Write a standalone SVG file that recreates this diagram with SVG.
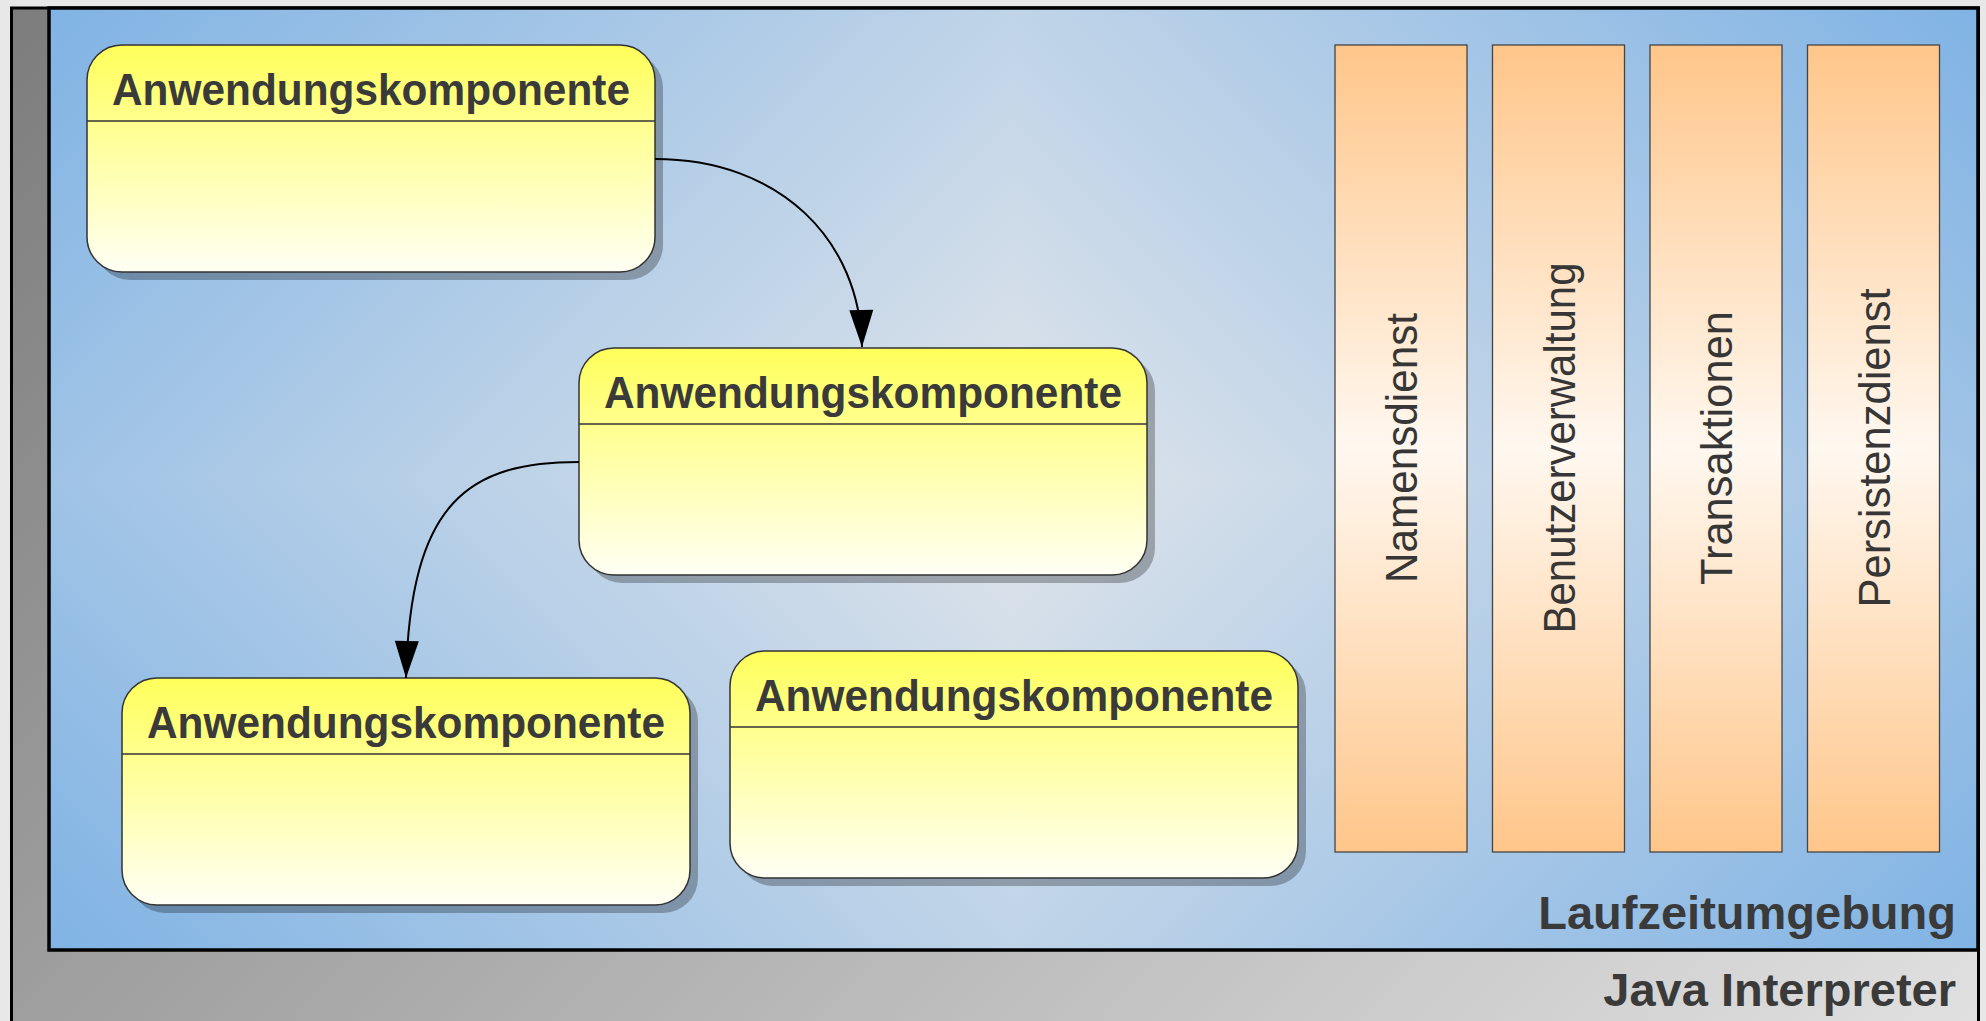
<svg xmlns="http://www.w3.org/2000/svg" width="1986" height="1021" viewBox="0 0 1986 1021">
  <defs>
    <!-- grey interpreter frame: diagonal ramp -->
    <linearGradient id="gradFrame" gradientUnits="userSpaceOnUse" x1="0" y1="0" x2="1500" y2="1500">
      <stop offset="0" stop-color="#7c7c7c"/>
      <stop offset="1" stop-color="#e0e0e0"/>
    </linearGradient>
    <!-- runtime area: diamond-shaped ramp, one linear ramp per quadrant around the centre (1013.5,479) -->
    <linearGradient id="gradTL" gradientUnits="userSpaceOnUse" x1="1013.5" y1="479" x2="295.75" y2="-238.75">
      <stop offset="0" stop-color="#dfe4ea"/>
      <stop offset="1" stop-color="#80b3e4"/>
    </linearGradient>
    <linearGradient id="gradTR" gradientUnits="userSpaceOnUse" x1="1013.5" y1="479" x2="1731.25" y2="-238.75">
      <stop offset="0" stop-color="#dfe4ea"/>
      <stop offset="1" stop-color="#80b3e4"/>
    </linearGradient>
    <linearGradient id="gradBL" gradientUnits="userSpaceOnUse" x1="1013.5" y1="479" x2="295.75" y2="1196.75">
      <stop offset="0" stop-color="#dfe4ea"/>
      <stop offset="1" stop-color="#80b3e4"/>
    </linearGradient>
    <linearGradient id="gradBR" gradientUnits="userSpaceOnUse" x1="1013.5" y1="479" x2="1731.25" y2="1196.75">
      <stop offset="0" stop-color="#dfe4ea"/>
      <stop offset="1" stop-color="#80b3e4"/>
    </linearGradient>
    <!-- component boxes -->
    <linearGradient id="gradBox" x1="0" y1="0" x2="0" y2="1">
      <stop offset="0" stop-color="#ffff5a"/>
      <stop offset="1" stop-color="#fffff5"/>
    </linearGradient>
    <!-- service columns: axial ramp -->
    <linearGradient id="gradService" x1="0" y1="0" x2="0" y2="1">
      <stop offset="0" stop-color="#ffc68a"/>
      <stop offset="0.5" stop-color="#fff8f0"/>
      <stop offset="1" stop-color="#ffc68a"/>
    </linearGradient>
    <marker id="arrow" markerUnits="userSpaceOnUse" markerWidth="38" markerHeight="24" refX="37" refY="12" orient="auto" overflow="visible">
      <path d="M0,0 L37,12 L0,24 Z" fill="#000"/>
    </marker>
  </defs>
  <style>
    .title { font-family: "Liberation Sans", Arial, sans-serif; font-weight: bold; font-size: 45px; fill: #3a3a3a; text-anchor: middle; }
    .label { font-family: "Liberation Sans", Arial, sans-serif; font-weight: bold; font-size: 47px; fill: #3a3a3a; text-anchor: end; }
    .service-text { font-family: "Liberation Sans", Arial, sans-serif; font-size: 43.5px; fill: #363636; text-anchor: middle; }
    .box { fill: url(#gradBox); stroke: #333; stroke-width: 1.5; }
    .shadow { fill: #000; opacity: 0.27; }
    .divider { stroke: #333; stroke-width: 1.5; }
    .service { fill: url(#gradService); stroke: #444; stroke-width: 1.3; }
    .conn { fill: none; stroke: #000; stroke-width: 2; marker-end: url(#arrow); }
  </style>

  <rect width="1986" height="1021" fill="#e8e8e8"/>

  <!-- Java Interpreter -->
  <g id="java-interpreter">
    <rect x="11.5" y="8" width="1967" height="1040" fill="url(#gradFrame)" stroke="#000" stroke-width="3"/>
    <text class="label" x="1956" y="1006">Java Interpreter</text>
  </g>

  <!-- Laufzeitumgebung -->
  <g id="laufzeitumgebung">
    <g shape-rendering="crispEdges">
      <rect x="49" y="8" width="965" height="471" fill="url(#gradTL)"/>
      <rect x="1013" y="8" width="965" height="471" fill="url(#gradTR)"/>
      <rect x="49" y="478" width="965" height="472" fill="url(#gradBL)"/>
      <rect x="1013" y="478" width="965" height="472" fill="url(#gradBR)"/>
    </g>
    <rect x="49" y="8" width="1929" height="942" fill="none" stroke="#000" stroke-width="3.5"/>
    <text class="label" x="1956" y="929">Laufzeitumgebung</text>
  </g>

  <!-- application components -->
  <g id="komponente-1">
    <rect class="shadow" x="95" y="53" width="568" height="227" rx="35"/>
    <rect class="box" x="87" y="45" width="568" height="227" rx="35"/>
    <line class="divider" x1="87" y1="121" x2="655" y2="121"/>
    <text class="title" x="371" y="105" textLength="518" lengthAdjust="spacingAndGlyphs">Anwendungskomponente</text>
  </g>
  <g id="komponente-2">
    <rect class="shadow" x="587" y="356" width="568" height="227" rx="35"/>
    <rect class="box" x="579" y="348" width="568" height="227" rx="35"/>
    <line class="divider" x1="579" y1="424" x2="1147" y2="424"/>
    <text class="title" x="863" y="408" textLength="518" lengthAdjust="spacingAndGlyphs">Anwendungskomponente</text>
  </g>
  <g id="komponente-3">
    <rect class="shadow" x="130" y="686" width="568" height="227" rx="35"/>
    <rect class="box" x="122" y="678" width="568" height="227" rx="35"/>
    <line class="divider" x1="122" y1="754" x2="690" y2="754"/>
    <text class="title" x="406" y="738" textLength="518" lengthAdjust="spacingAndGlyphs">Anwendungskomponente</text>
  </g>
  <g id="komponente-4">
    <rect class="shadow" x="738" y="659" width="568" height="227" rx="35"/>
    <rect class="box" x="730" y="651" width="568" height="227" rx="35"/>
    <line class="divider" x1="730" y1="727" x2="1298" y2="727"/>
    <text class="title" x="1014" y="711" textLength="518" lengthAdjust="spacingAndGlyphs">Anwendungskomponente</text>
  </g>

  <!-- runtime services -->
  <g id="namensdienst">
    <rect class="service" x="1335" y="45" width="132" height="807"/>
    <text class="service-text" transform="translate(1417,448) rotate(-90)" textLength="270" lengthAdjust="spacingAndGlyphs">Namensdienst</text>
  </g>
  <g id="benutzerverwaltung">
    <rect class="service" x="1492.5" y="45" width="132" height="807"/>
    <text class="service-text" transform="translate(1574.5,448) rotate(-90)" textLength="371" lengthAdjust="spacingAndGlyphs">Benutzerverwaltung</text>
  </g>
  <g id="transaktionen">
    <rect class="service" x="1650" y="45" width="132" height="807"/>
    <text class="service-text" transform="translate(1732,448) rotate(-90)">Transaktionen</text>
  </g>
  <g id="persistenzdienst">
    <rect class="service" x="1807.5" y="45" width="132" height="807"/>
    <text class="service-text" transform="translate(1889.5,448) rotate(-90)">Persistenzdienst</text>
  </g>

  <!-- calls between components -->
  <g id="connectors">
    <path class="conn" d="M655,159 C780,159 860,240 862,347"/>
    <path class="conn" d="M579,462 C470,462 410,500 406,678"/>
  </g>
</svg>
